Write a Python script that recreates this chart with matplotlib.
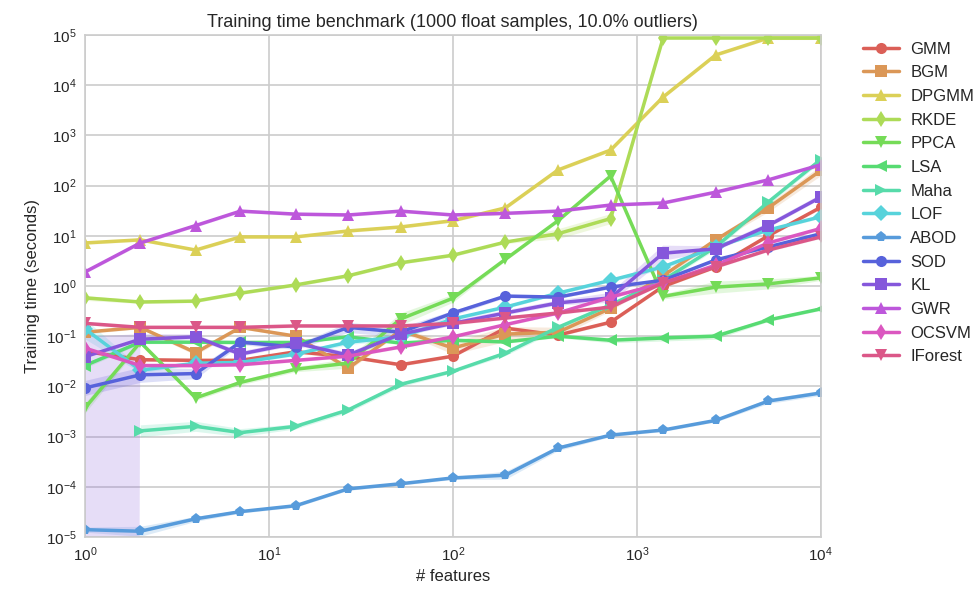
import numpy as np
import matplotlib
matplotlib.use("Agg")
import matplotlib.pyplot as plt
import seaborn as sns

sns.set_style("whitegrid")
plt.rcParams['font.family'] = ['Liberation Sans', 'DejaVu Sans']

n_features = [1, 2, 4, 7, 14, 27, 52, 100, 193, 373, 720, 1389, 2683, 5179, 10000]

methods = ["GMM", "BGM", "DPGMM", "RKDE", "PPCA", "LSA", "Maha", "LOF",
           "ABOD", "SOD", "KL", "GWR", "OCSVM", "IForest"]

GMM = [0.05, 0.034, 0.033, 0.033, 0.049, 0.039, 0.027, 0.04, 0.145, 0.105, 0.19, 0.98, 2.4, 10, 37]
BGM = [0.12, 0.15, 0.047, 0.15, 0.1, 0.023, 0.13, 0.058, 0.11, 0.12, 0.36, 1.6, 8.3, 36, 200]
DPGMM = [7.2, 8.3, 5.2, 9.5, 9.5, 12.5, 15, 20, 36, 205, 510, 5800, 40000, 87000, 87000]
RKDE = [0.58, 0.48, 0.5, 0.72, 1.05, 1.6, 2.9, 4.1, 7.5, 11, 22, 87000, 87000, 87000, 87000]
PPCA = [0.0037, 0.076, 0.0059, 0.012, 0.022, 0.029, 0.22, 0.57, 3.4, 20, 155, 0.62, 0.95, 1.1, 1.45]
LSA = [0.026, 0.076, 0.076, 0.075, 0.075, 0.097, 0.073, 0.083, 0.077, 0.1, 0.083, 0.092, 0.1, 0.21, 0.35]
Maha = [np.nan, 0.0013, 0.0016, 0.0012, 0.0016, 0.0034, 0.011, 0.02, 0.046, 0.15, 0.42, 1.3, 6.0, 47, 330]
LOF = [0.14, 0.021, 0.029, 0.03, 0.044, 0.076, 0.097, 0.22, 0.38, 0.72, 1.3, 2.4, 6.0, 13, 24]
ABOD = [1.4e-5, 1.3e-5, 2.3e-5, 3.2e-5, 4.2e-5, 9.1e-5, 1.15e-4, 1.5e-4, 1.7e-4, 5.9e-4, 1.07e-3, 1.35e-3, 2.1e-3, 5.1e-3, 7.4e-3]
SOD = [0.0093, 0.017, 0.018, 0.076, 0.061, 0.15, 0.12, 0.29, 0.63, 0.6, 0.95, 1.3, 3.3, 6.0, 11]
KL = [0.039, 0.087, 0.097, 0.044, 0.073, 0.042, 0.11, 0.18, 0.29, 0.46, 0.58, 4.5, 5.5, 16, 59]
GWR = [1.9, 7.2, 16, 31, 27, 26, 31, 26, 28, 31, 41, 45, 74, 130, 260]
OCSVM = [0.058, 0.026, 0.026, 0.027, 0.033, 0.04, 0.061, 0.097, 0.17, 0.29, 0.6, 1.15, 2.6, 7.2, 14]
IForest = [0.18, 0.15, 0.15, 0.15, 0.16, 0.16, 0.16, 0.18, 0.23, 0.29, 0.38, 1.15, 2.4, 5.2, 9.5]

# confidence band half-widths (in decades)
band_default = [0.03] * 15
bands = {
    "BGM": [0.03, 0.03, 0.05, 0.03, 0.03, 0.05, 0.03, 0.12, 0.15, 0.1, 0.05, 0.05, 0.05, 0.08, 0.1],
    "RKDE": [0.05, 0.03, 0.03, 0.03, 0.03, 0.03, 0.03, 0.03, 0.03, 0.1, 0.1, 0.02, 0.02, 0.02, 0.02],
    "PPCA": [0.1, 0.05, 0.05, 0.05, 0.05, 0.1, 0.12, 0.08, 0.03, 0.03, 0.03, 0.05, 0.12, 0.1, 0.05],
    "LSA": [0.05, 0.03, 0.03, 0.03, 0.03, 0.03, 0.03, 0.03, 0.03, 0.03, 0.05, 0.06, 0.06, 0.03, 0.03],
    "Maha": [0.03, 0.12, 0.1, 0.08, 0.05, 0.05, 0.05, 0.03, 0.05, 0.05, 0.05, 0.05, 0.05, 0.05, 0.05],
    "LOF": [0.2, 0.05, 0.03, 0.03, 0.03, 0.05, 0.05, 0.03, 0.03, 0.03, 0.03, 0.05, 0.03, 0.03, 0.03],
    "ABOD": [0.05, 0.1, 0.05, 0.03, 0.03, 0.03, 0.03, 0.03, 0.08, 0.05, 0.03, 0.03, 0.03, 0.05, 0.05],
    "SOD": [0.15, 0.15, 0.1, 0.05, 0.05, 0.1, 0.1, 0.05, 0.03, 0.03, 0.03, 0.03, 0.03, 0.03, 0.03],
    "KL": [0.4, 0.1, 0.05, 0.05, 0.05, 0.05, 0.05, 0.05, 0.05, 0.05, 0.1, 0.15, 0.05, 0.05, 0.05],
}
# KL lower bound vanishes at the first point
KL_low_zero = [True] + [False] * 14

markers = ["o", "s", "^", "d", "v", "<", ">", "D", "p", "o", "s", "^", "d", "v"]
series = [GMM, BGM, DPGMM, RKDE, PPCA, LSA, Maha, LOF, ABOD, SOD, KL, GWR, OCSVM, IForest]
colors = sns.color_palette("hls", len(methods))

fig = plt.figure(figsize=(9.76, 5.91), dpi=100)
ax = fig.add_axes([0.087, 0.0914, 0.754, 0.8494])

x = np.array(n_features, dtype=float)
for name, vals, mk, c in zip(methods, series, markers, colors):
    y = np.array(vals, dtype=float)
    w = np.array(bands.get(name, band_default))
    lo = y / 10 ** w
    hi = y * 10 ** w
    if name == "KL":
        lo = np.where(KL_low_zero, 1e-300, lo)
    ax.fill_between(x, lo, hi, color=c, alpha=0.2, linewidth=0)
    ax.plot(x, y, color=c, marker=mk, markersize=8, linewidth=2.5, label=name,
            markeredgewidth=0)

ax.set_xscale("log")
ax.set_yscale("log")
ax.set_xlim(1, 1e4)
ax.set_ylim(1e-5, 1e5)
ax.xaxis.set_minor_locator(matplotlib.ticker.NullLocator())
ax.yaxis.set_minor_locator(matplotlib.ticker.NullLocator())
ax.set_yticks([10.0 ** k for k in range(-5, 6)])
ax.set_xticks([10.0 ** k for k in range(0, 5)])
ax.tick_params(labelsize=11, colors="#262626", length=0, pad=6)
for s in ax.spines.values():
    s.set_color("#cccccc")
    s.set_linewidth(1.2)
ax.grid(True, color="#cccccc", linewidth=1.2)

ax.set_title("Training time benchmark (1000 float samples, 10.0% outliers)", fontsize=13, color="#262626")
ax.set_xlabel("# features", fontsize=12, color="#262626")
ax.set_ylabel("Training time (seconds)", fontsize=12, color="#262626")

ax.legend(loc="upper left", bbox_to_anchor=(1.057, 0.987), frameon=False, fontsize=12,
          labelspacing=0.52, handlelength=2.15, handletextpad=0.7,
          borderaxespad=0.0, borderpad=0.0)

fig.savefig("out.png", dpi=100)
